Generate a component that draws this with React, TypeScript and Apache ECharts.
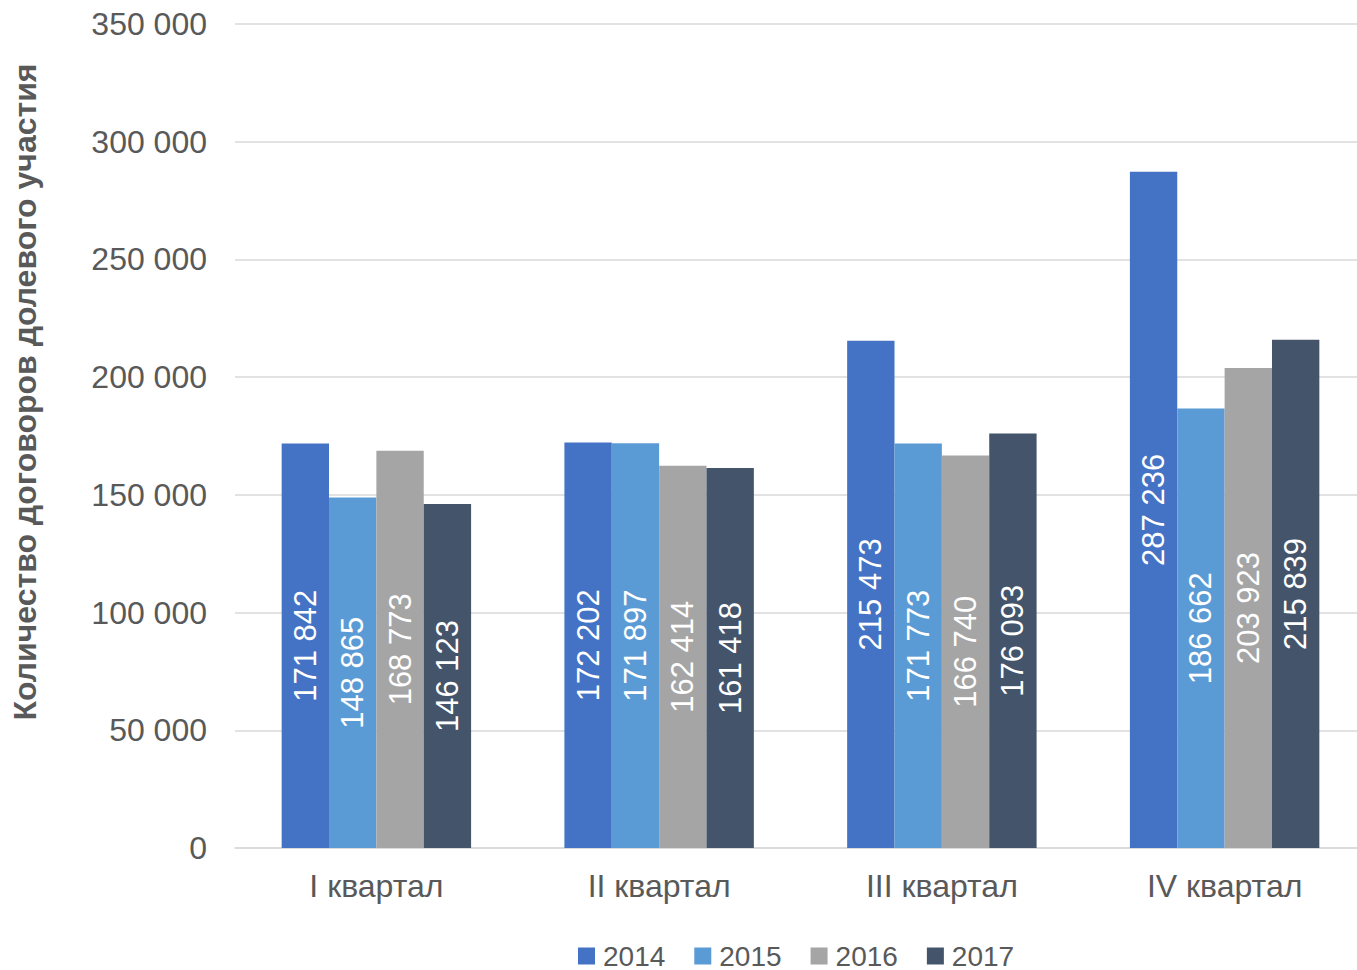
import React, { useEffect, useRef } from "react";
import * as echarts from "echarts";

const categories = ["I квартал", "II квартал", "III квартал", "IV квартал"];
const seriesNames = ["2014", "2015", "2016", "2017"];
const values2014 = [171842, 172202, 215473, 287236];
const values2015 = [148865, 171897, 171773, 186662];
const values2016 = [168773, 162414, 166740, 203923];
const values2017 = [146123, 161418, 176093, 215839];
const colors = ["#4472C4", "#5B9BD5", "#A5A5A5", "#44546A"];
const yTitle = "Количество договоров долевого участия";

const fmt = (v: number) => String(v).replace(/\B(?=(\d{3})+(?!\d))/g, " ");

export default function App() {
  const ref = useRef<HTMLDivElement>(null);
  useEffect(() => {
    const chart = echarts.init(ref.current!, null, { renderer: "svg" });
    const all = [values2014, values2015, values2016, values2017];
    chart.setOption({
      animation: false,
      textStyle: { fontFamily: "Liberation Sans, Arial, sans-serif" },
      grid: { left: 235, width: 1131, top: 24, bottom: 122, containLabel: false, outerBoundsMode: "none" },
      legend: {
        data: seriesNames,
        left: 578,
        top: 942,
        padding: 0,
        icon: "rect",
        itemWidth: 17,
        itemHeight: 17,
        itemGap: 29,
        textStyle: { fontSize: 28, lineHeight: 26, color: "#595959", padding: [0, 0, 0, 3] },
      },
      xAxis: {
        type: "category",
        data: categories,
        axisTick: { show: false },
        axisLine: { lineStyle: { color: "#D9D9D9", width: 1.5 } },
        axisLabel: { fontSize: 32, color: "#595959", margin: 22 },
      },
      yAxis: {
        type: "value",
        min: 0,
        max: 350000,
        interval: 50000,
        axisLine: { show: false },
        axisTick: { show: false },
        splitLine: { lineStyle: { color: "#D9D9D9", width: 1.5 } },
        axisLabel: { fontSize: 32, color: "#595959", margin: 28, formatter: (v: number) => fmt(v) },
      },
      graphic: [
        {
          type: "text",
          x: 25,
          y: 392,
          rotation: Math.PI / 2,
          style: {
            text: yTitle,
            fontSize: 32,
            fontWeight: "bold",
            fill: "#595959",
            align: "center",
            verticalAlign: "middle",
            fontFamily: "Liberation Sans, Arial, sans-serif",
          },
        },
      ],
      series: seriesNames.map((name, i) => ({
        name,
        type: "bar",
        data: all[i],
        barGap: "0%",
        barCategoryGap: "33%",
        itemStyle: { color: colors[i] },
        label: {
          show: true,
          position: "inside",
          rotate: 90,
          color: "#FFFFFF",
          fontSize: 31,
          formatter: (p: any) => fmt(p.value),
        },
      })),
    });
    return () => chart.dispose();
  }, []);
  return <div ref={ref} style={{ width: 1357, height: 970, position: "absolute", left: 0, top: 0 }} />;
}
